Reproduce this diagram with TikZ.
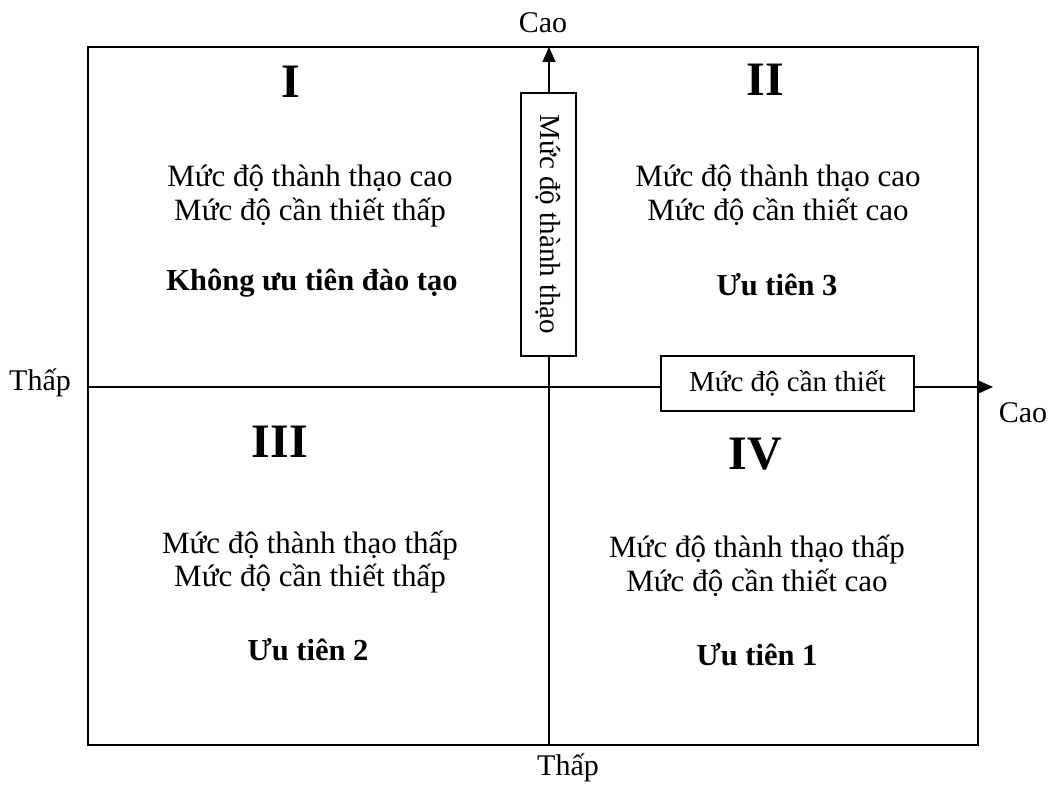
\documentclass[tikz,border=0pt]{standalone}
\usepackage{fontspec}
\setmainfont{Liberation Serif}
\usetikzlibrary{arrows.meta}
\begin{document}
\begin{tikzpicture}[x=1pt,y=-1pt,
  body/.style={font=\fontsize{31}{35}\selectfont, anchor=base, inner sep=0pt},
  strong/.style={font=\fontsize{30.5}{35}\selectfont\bfseries, anchor=base, inner sep=0pt},
  numeral/.style={font=\fontsize{48}{52}\selectfont\bfseries, anchor=base, inner sep=0pt},
  axislabel/.style={font=\fontsize{30}{34}\selectfont, anchor=base, inner sep=0pt},
  axisbox/.style={draw, line width=1.3pt, fill=white, inner sep=0pt,
    font=\fontsize{29}{33}\selectfont},
  axis/.style={line width=1.3pt, -{Triangle[length=15pt,width=13pt]}},
  frame/.style={line width=1.5pt}]
\useasboundingbox (0,0) rectangle (1056,786);

% outer frame
\draw[frame] (88,47) rectangle (978,745);

% axes
\coordinate (vbot) at (549,745);
\coordinate (vtop) at (549,47);
\coordinate (hleft) at (88,387);
\coordinate (hright) at (993,387);
\draw[axis] (vbot) -- (vtop);
\draw[axis] (hleft) -- (hright);

% axis boxes
\node[axisbox, rotate=-90, minimum width=263pt, minimum height=55pt]
  (vbox) at (548.5,224.5) {Mức độ thành thạo};
\node[axisbox, minimum width=253pt, minimum height=55pt]
  (hbox) at (787.5,383.5) {Mức độ cần thiết};

% axis end labels
\node[axislabel] (vhigh) at (543,33) {Cao};
\node[axislabel] (vlow) at (568,775) {Thấp};
\node[axislabel] (hlow) at (40,390) {Thấp};
\node[axislabel] (hhigh) at (1023,422) {Cao};

% quadrant I
\node[numeral] (q1) at (291,98) {I};
\node[body] (q1a) at (310,187) {Mức độ thành thạo cao};
\node[body] (q1b) at (310,221) {Mức độ cần thiết thấp};
\node[strong] (q1c) at (312,290) {Không ưu tiên đào tạo};

% quadrant II
\node[numeral] (q2) at (765,96) {II};
\node[body] (q2a) at (778,187) {Mức độ thành thạo cao};
\node[body] (q2b) at (778,221) {Mức độ cần thiết cao};
\node[strong] (q2c) at (777,295) {Ưu tiên 3};

% quadrant III
\node[numeral] (q3) at (280,457) {III};
\node[body] (q3a) at (310,553) {Mức độ thành thạo thấp};
\node[body] (q3b) at (310,586) {Mức độ cần thiết thấp};
\node[strong] (q3c) at (308,660) {Ưu tiên 2};

% quadrant IV
\node[numeral] (q4) at (755,469) {IV};
\node[body] (q4a) at (757,557) {Mức độ thành thạo thấp};
\node[body] (q4b) at (757,591) {Mức độ cần thiết cao};
\node[strong] (q4c) at (757,665) {Ưu tiên 1};
\end{tikzpicture}
\end{document}
